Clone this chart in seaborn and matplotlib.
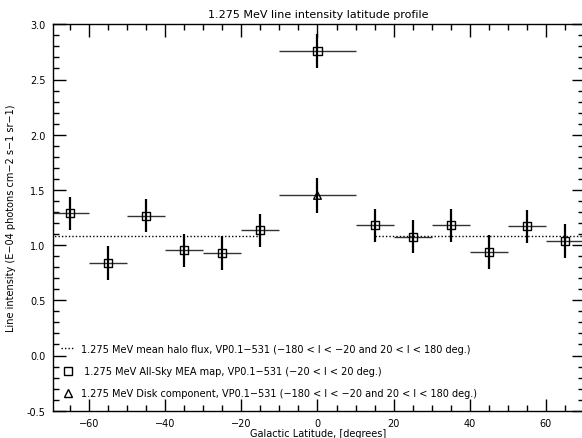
import numpy as np
import pandas as pd
import seaborn as sns
import matplotlib.pyplot as plt
from matplotlib.lines import Line2D
from matplotlib.ticker import MultipleLocator

# All-sky MEA map latitude profile (squares)
lat = [-65, -55, -45, -35, -25, -15, 0, 15, 25, 35, 45, 55, 65]
lat_half = [5, 5, 5, 5, 5, 5, 10, 5, 5, 5, 5, 5, 5]
intensity = [1.29, 0.835, 1.265, 0.955, 0.93, 1.135, 2.76, 1.18, 1.075, 1.18, 0.935, 1.17, 1.035]
intensity_err = [0.15, 0.155, 0.15, 0.15, 0.155, 0.15, 0.155, 0.15, 0.15, 0.15, 0.155, 0.15, 0.155]

# disk component (triangle)
disk_lat = [0]
disk_half = [10]
disk_intensity = [1.45]
disk_err = [0.155]

# mean halo flux (dotted)
halo_level = 1.085
halo_ranges = [(-70, -15), (15, 70)]

labels = [
    "1.275 MeV mean halo flux, VP0.1\u2212531 (\u2212180 < l < \u221220 and 20 < l < 180 deg.)",
    " 1.275 MeV All-Sky MEA map, VP0.1\u2212531 (\u221220 < l < 20 deg.)",
    "1.275 MeV Disk component, VP0.1\u2212531 (\u2212180 < l < \u221220 and 20 < l < 180 deg.)",
]

df = pd.DataFrame({"lat": lat, "intensity": intensity})
df_disk = pd.DataFrame({"lat": disk_lat, "intensity": disk_intensity})

sns.set_theme(style="ticks")
plt.rcParams['font.family'] = ['DejaVu Sans']
plt.rcParams['font.size'] = 7
plt.rcParams['text.color'] = 'black'
plt.rcParams['axes.labelcolor'] = 'black'

fig = plt.figure(figsize=(5.82, 4.39), dpi=100)
ax = fig.add_axes([52.5 / 582, 27.3 / 439, (584 - 52.5) / 582, 386.4 / 439])

for x0, x1 in halo_ranges:
    ax.hlines(halo_level, x0, x1, colors="black", linestyles=(0, (1, 1.5)), linewidth=1)

ax.errorbar(lat, intensity, xerr=lat_half, fmt="none", ecolor="#333333", elinewidth=1.0, capsize=0)
ax.errorbar(lat, intensity, yerr=intensity_err, fmt="none", ecolor="black", elinewidth=1.6, capsize=0)
ax.errorbar(disk_lat, disk_intensity, xerr=disk_half, fmt="none", ecolor="#333333", elinewidth=1.0, capsize=0)
ax.errorbar(disk_lat, disk_intensity, yerr=disk_err, fmt="none", ecolor="black", elinewidth=1.6, capsize=0)

sns.scatterplot(data=df, x="lat", y="intensity", marker="s", s=34, facecolor="none",
                edgecolor="black", linewidth=1, ax=ax, zorder=5)
sns.scatterplot(data=df_disk, x="lat", y="intensity", marker="^", s=30, facecolor="none",
                edgecolor="black", linewidth=1, ax=ax, zorder=5)

ax.set_xlim(-69.6, 70)
ax.set_ylim(-0.5, 3.0)
ax.xaxis.set_major_locator(MultipleLocator(20))
ax.xaxis.set_minor_locator(MultipleLocator(5))
ax.yaxis.set_major_locator(MultipleLocator(0.5))
ax.yaxis.set_minor_locator(MultipleLocator(0.1))
ax.yaxis.set_major_formatter(plt.FormatStrFormatter("%.1f"))
ax.tick_params(which="both", direction="in", top=True, right=True, width=1, colors="black", labelsize=7)
ax.tick_params(axis="x", pad=5)
ax.tick_params(axis="y", pad=5)
ax.tick_params(which="major", length=9)
ax.tick_params(which="minor", length=4.5)
for s in ax.spines.values():
    s.set_color("black")
    s.set_linewidth(1)

ax.set_title("1.275 MeV line intensity latitude profile", fontsize=8, pad=5, color="black")
ax.set_xlabel("Galactic Latitude, [degrees]", fontsize=7, labelpad=0)
ax.set_ylabel("Line intensity (E\u221204 photons cm\u22122 s\u22121 sr\u22121)", fontsize=7, labelpad=8)

handles = [
    Line2D([], [], color="black", linestyle=(0, (1, 1.5)), linewidth=1),
    Line2D([], [], color="black", marker="s", markerfacecolor="none", linestyle="none", markersize=6),
    Line2D([], [], color="black", marker="^", markerfacecolor="none", linestyle="none", markersize=6),
]
leg = ax.legend(handles, labels, loc="lower left", bbox_to_anchor=(0.0, 0.01), frameon=False,
                fontsize=7, handlelength=1.3, handletextpad=0.7, labelspacing=1.25)
for t in leg.get_texts():
    t.set_color("black")

fig.savefig("out.png", dpi=100)
